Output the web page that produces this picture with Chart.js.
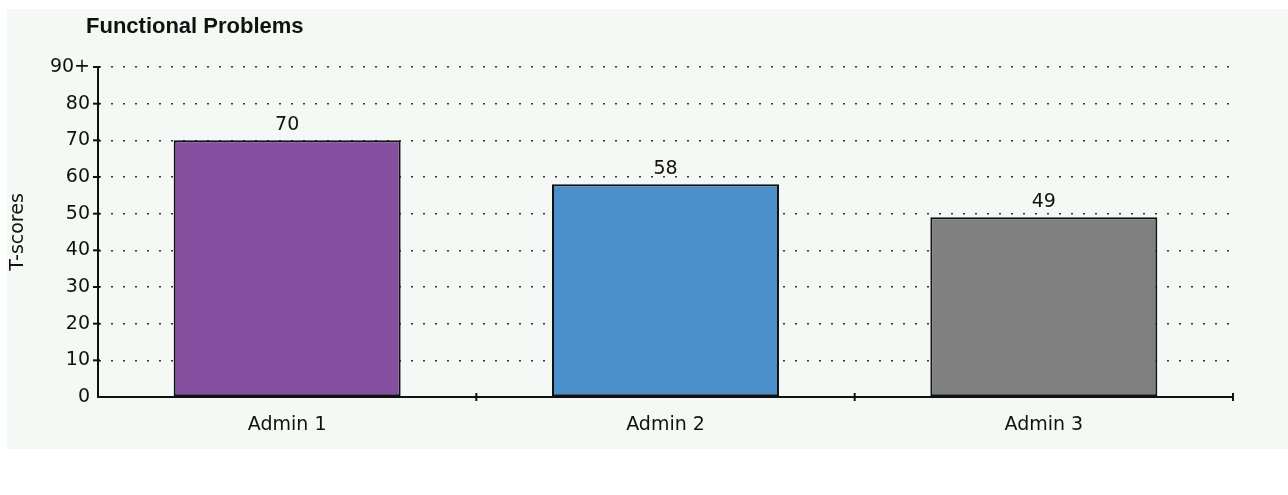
<!DOCTYPE html>
<html>
<head>
<meta charset="utf-8">
<script src="https://cdn.jsdelivr.net/npm/chart.js@4.4.1/dist/chart.umd.min.js"></script>
<style>
  html, body { margin: 0; padding: 0; background: #ffffff; }
  #wrap { position: absolute; left: 7px; top: 9px; width: 1281px; height: 440px; background: #f4f9f6; }
  #box { position: absolute; left: 0; top: 0; width: 1288px; height: 495px; }
</style>
</head>
<body>
<div id="wrap"></div>
<div id="box"><canvas id="chart" width="1288" height="495"></canvas></div>
<script>
// chart data
const chartTitle = 'Functional Problems';
const categories = ['Admin 1', 'Admin 2', 'Admin 3'];
const scores = [70, 58, 49];
const barColors = ['#854f9f', '#4a8fc9', '#808080'];
const yTicks = [0, 10, 20, 30, 40, 50, 60, 70, 80, 90];
const yTickLabels = ['0', '10', '20', '30', '40', '50', '60', '70', '80', '90+'];
const yAxisTitle = 'T-scores';

const FONT = '"DejaVu Sans", sans-serif';
const INK = '#111111';

// bar value labels + chart title
const labelsPlugin = {
    id: 'barLabels',
    afterDatasetsDraw(chart) {
        const ctx = chart.ctx;
        const meta = chart.getDatasetMeta(0);
        ctx.save();
        ctx.fillStyle = INK;
        ctx.font = '19px ' + FONT;
        ctx.textAlign = 'center';
        ctx.textBaseline = 'bottom';
        meta.data.forEach((bar, i) => {
            ctx.fillText(String(scores[i]), bar.x, bar.y - 6);
        });
        // title, left aligned a bit before the axis
        ctx.font = 'bold 22px "Liberation Sans", Arial, sans-serif';
        ctx.textAlign = 'left';
        ctx.textBaseline = 'alphabetic';
        ctx.fillText(chartTitle, chart.chartArea.left - 12, 33);
        // x axis ticks above the axis line too
        const x = chart.scales.x;
        const yb = chart.chartArea.bottom;
        ctx.strokeStyle = INK;
        ctx.lineWidth = 2;
        for (let i = 1; i <= categories.length; i++) {
            const px = x.left + (x.right - x.left) * i / categories.length;
            ctx.beginPath();
            ctx.moveTo(px, yb - 4);
            ctx.lineTo(px, yb + 4);
            ctx.stroke();
        }
        // y ticks across the axis
        const y = chart.scales.y;
        yTicks.forEach(v => {
            if (v === 0) return;
            const py = y.getPixelForValue(v);
            ctx.beginPath();
            ctx.moveTo(y.right - 5, py);
            ctx.lineTo(y.right + 2, py);
            ctx.stroke();
        });
        ctx.restore();
    }
};

const ctx = document.getElementById('chart').getContext('2d');
new Chart(ctx, {
    type: 'bar',
    data: {
        labels: categories,
        datasets: [{
            data: scores,
            backgroundColor: barColors,
            borderColor: INK,
            borderWidth: 2,
            borderSkipped: false,
            barPercentage: 0.6,
            categoryPercentage: 1.0
        }]
    },
    options: {
        responsive: false,
        animation: false,
        layout: { padding: { left: 0, right: 55, top: 67, bottom: 0 } },
        plugins: {
            legend: { display: false },
            tooltip: { enabled: false },
            title: { display: false }
        },
        scales: {
            x: {
                offset: true,
                grid: { display: false, offset: true },
                border: { display: true, color: INK, width: 2 },
                ticks: { color: INK, font: { family: FONT, size: 19 }, padding: 9 },
                afterFit(scale) { scale.height = 98; }
            },
            y: {
                min: 0,
                max: 90,
                afterBuildTicks(scale) { scale.ticks = yTicks.map(v => ({ value: v })); },
                grid: {
                    color: '#333',
                    lineWidth: 1.5,
                    drawTicks: false
                },
                border: { display: true, color: INK, width: 2, dash: [2, 10] },
                ticks: {
                    color: INK,
                    font: { family: FONT, size: 19 },
                    padding: 8,
                    callback(value, index) { return yTickLabels[index]; }
                },
                title: {
                    display: true,
                    text: yAxisTitle,
                    color: INK,
                    font: { family: FONT, size: 19 },
                    padding: { top: 7, bottom: 0 }
                },
                afterFit(scale) { scale.width = 98; }
            }
        }
    },
    plugins: [labelsPlugin]
});
</script>
</body>
</html>
